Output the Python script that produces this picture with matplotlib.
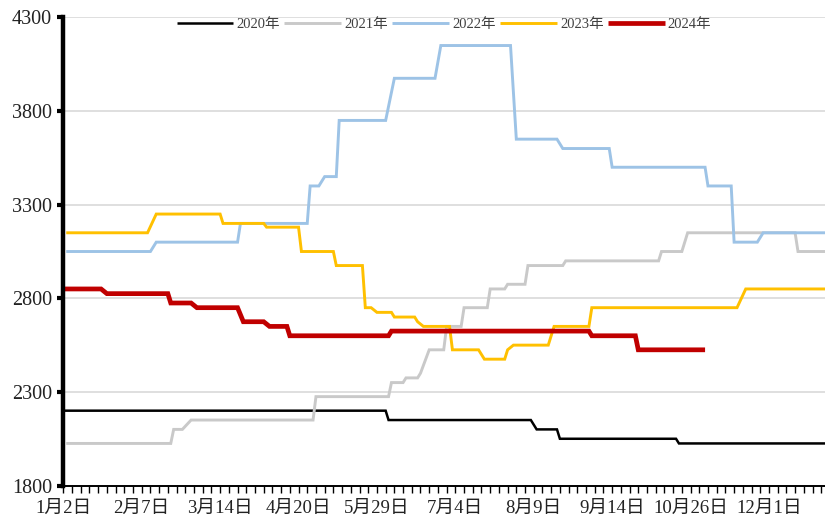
import numpy as np
import matplotlib
matplotlib.use('Agg')
import matplotlib.pyplot as plt

# x axis = trading day index from 1月2日, labels every 27 days, small ticks every 3
tick_days = [0, 27, 54, 81, 108, 135, 162, 189, 216, 243]
tick_labels = ['1月2日', '2月7日', '3月14日', '4月20日', '5月29日',
               '7月4日', '8月9日', '9月14日', '10月26日', '12月1日']

# (day, price) where the price changes
d2020 = [0, 111, 112, 161, 163, 170, 171, 211, 212, 263]
p2020 = [2200, 2200, 2150, 2150, 2100, 2100, 2050, 2050, 2025, 2025]

d2021 = [1, 37, 38, 41, 44, 86, 87, 112, 113, 117, 118, 122, 123, 126, 131, 132,
         137, 138, 146, 147, 152, 153, 159, 160, 172, 173, 205, 206, 213, 215, 252, 253, 263]
p2021 = [2025, 2025, 2100, 2100, 2150, 2150, 2275, 2275, 2350, 2350, 2375, 2375, 2400, 2525, 2525, 2650,
         2650, 2750, 2750, 2850, 2850, 2875, 2875, 2975, 2975, 3000, 3000, 3050, 3050, 3150, 3150, 3050, 3050]

d2022 = [1, 30, 32, 60, 61, 84, 85, 88, 90, 94, 95, 111, 114, 128, 130, 154, 156,
         170, 172, 188, 189, 221, 222, 230, 231, 239, 241, 263]
p2022 = [3050, 3050, 3100, 3100, 3200, 3200, 3400, 3400, 3450, 3450, 3750, 3750, 3975, 3975, 4150, 4150, 3650,
         3650, 3600, 3600, 3500, 3500, 3400, 3400, 3100, 3100, 3150, 3150]

d2023 = [1, 29, 32, 54, 55, 69, 70, 81, 82, 93, 94, 103, 104, 106, 108, 113, 114, 121, 122, 124,
         133, 134, 143, 145, 152, 153, 155, 167, 169, 181, 182, 232, 235, 263]
p2023 = [3150, 3150, 3250, 3250, 3200, 3200, 3180, 3180, 3050, 3050, 2975, 2975, 2750, 2750, 2725, 2725, 2700, 2700, 2675, 2650,
         2650, 2525, 2525, 2475, 2475, 2525, 2550, 2550, 2650, 2650, 2750, 2750, 2850, 2850]

d2024 = [0, 13, 15, 36, 37, 44, 46, 60, 62, 69, 71, 77, 78, 112, 113, 181, 182, 197, 198, 221]
p2024 = [2850, 2850, 2825, 2825, 2775, 2775, 2750, 2750, 2675, 2675, 2650, 2650, 2600, 2600, 2625, 2625, 2600, 2600, 2525, 2525]

series = [
    ('2020年', d2020, p2020, '#000000', 1.8),
    ('2021年', d2021, p2021, '#C9C9C9', 2.1),
    ('2022年', d2022, p2022, '#9DC3E6', 2.1),
    ('2023年', d2023, p2023, '#FFC000', 2.1),
    ('2024年', d2024, p2024, '#C00000', 3.4),
]

serif = ['Liberation Serif', 'Noto Sans CJK SC']

fig = plt.figure(figsize=(8.25, 5.19), dpi=100)
ax = fig.add_axes([0.0764, 0.0644, 0.9236, 0.902])

for name, d, p, c, lw in series:
    ax.plot(d, p, color=c, lw=lw, label=name, solid_joinstyle='miter', solid_capstyle='butt')

ax.set_xlim(-0.1, 262.3)
ax.set_ylim(1800, 4300)
ax.set_yticks([1800, 2300, 2800, 3300, 3800, 4300])
ax.yaxis.grid(True, color='#D9D9D9', lw=1.2)
ax.set_axisbelow(True)

ax.set_xticks(tick_days)
ax.set_xticklabels(tick_labels, family=serif, fontsize=13.5, color='#222222')
ax.set_xticks(np.arange(0, 263, 3), minor=True)
ax.tick_params(axis='x', which='both', direction='out', length=5, width=1, pad=5)
ax.tick_params(axis='y', direction='out', length=4, width=3, pad=4, labelsize=14.5)
for t in ax.get_yticklabels():
    t.set_family(serif)
    t.set_color('#222222')

for s in ['top', 'right']:
    ax.spines[s].set_visible(False)
ax.spines['left'].set_linewidth(3.2)
ax.spines['bottom'].set_linewidth(1.4)

leg = ax.legend(loc='upper center', bbox_to_anchor=(0.5, 1.028), ncol=5, frameon=False,
                handlelength=3.9, columnspacing=0.3, handletextpad=0.2,
                prop={'family': serif, 'size': 10.5})
for t in leg.get_texts():
    t.set_color('#404040')

fig.savefig('out.png', dpi=100)
